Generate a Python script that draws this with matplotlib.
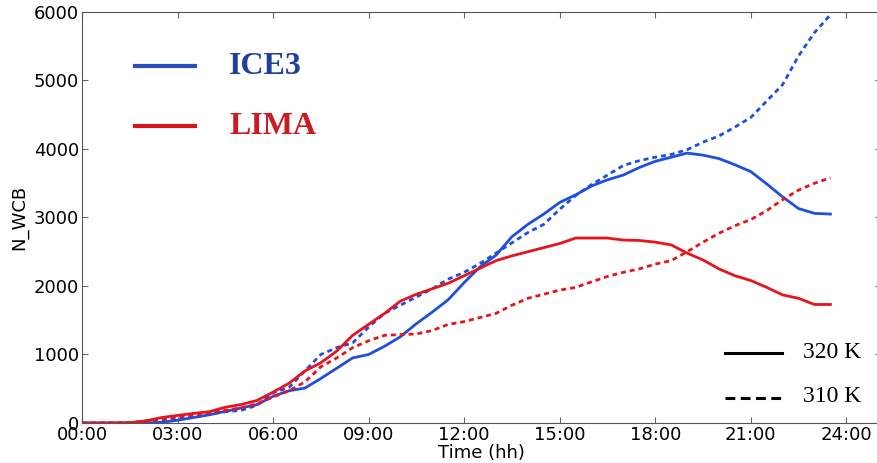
import numpy as np
import matplotlib
matplotlib.use('Agg')
import matplotlib.pyplot as plt
from matplotlib.lines import Line2D

# time in hours, every half hour
hours = np.arange(0, 24, 0.5)

# ICE3, 320 K (solid)
ice3_320 = [0, 0, 0, 0, 0, 10, 40, 80, 120, 170, 220, 270,
            390, 470, 510, 650, 800, 950, 1000, 1120, 1260, 1450, 1620, 1800,
            2050, 2280, 2450, 2720, 2900, 3050, 3220, 3330, 3460, 3550, 3620, 3730,
            3820, 3880, 3940, 3910, 3860, 3770, 3670, 3490, 3300, 3130, 3060, 3050]
# ICE3, 310 K (dashed)
ice3_310 = [0, 0, 0, 0, 5, 30, 60, 90, 130, 165, 185, 260,
            440, 520, 760, 1000, 1100, 1170, 1400, 1600, 1720, 1840, 1960, 2100,
            2200, 2330, 2480, 2630, 2780, 2900, 3120, 3320, 3480, 3620, 3760, 3830,
            3880, 3920, 3990, 4100, 4190, 4320, 4460, 4700, 4940, 5360, 5700, 5960]
# LIMA, 320 K (solid)
lima_320 = [0, 0, 0, 5, 30, 80, 110, 140, 165, 230, 270, 330,
            450, 580, 760, 880, 1050, 1280, 1440, 1600, 1780, 1880, 1960, 2040,
            2150, 2260, 2370, 2440, 2500, 2560, 2620, 2700, 2700, 2700, 2670, 2665,
            2640, 2600, 2480, 2380, 2250, 2150, 2080, 1980, 1870, 1820, 1730, 1730]
# LIMA, 310 K (dashed)
lima_310 = [0, 0, 0, 5, 30, 60, 90, 120, 150, 185, 220, 280,
            380, 470, 600, 820, 950, 1100, 1200, 1280, 1290, 1300, 1350, 1440,
            1480, 1540, 1600, 1720, 1820, 1880, 1940, 1980, 2060, 2140, 2200, 2250,
            2320, 2370, 2500, 2640, 2770, 2880, 2970, 3100, 3260, 3400, 3500, 3580]

tick_hours = np.arange(0, 25, 3)
tick_labels = ['%02d:00' % h for h in tick_hours]

blue = '#1f4fe0'
red = '#e8141c'

fig = plt.figure(figsize=(8.77, 4.63), dpi=100)
ax = fig.add_axes([0.0935, 0.0864, 0.9115, 0.8877])

ax.plot(hours, ice3_320, color=blue, lw=2)
ax.plot(hours, ice3_310, color=blue, lw=2, dashes=(1.8, 1.4))
ax.plot(hours, lima_320, color=red, lw=2)
ax.plot(hours, lima_310, color=red, lw=2, dashes=(1.8, 1.4))

ax.set_xlim(0, 25.1)
ax.set_ylim(0, 6000)
ax.set_xticks(tick_hours)
ax.set_xticklabels(tick_labels)
ax.set_yticks(np.arange(0, 6001, 1000))
ax.tick_params(direction='in', top=True, right=True, labelsize=13, length=4,
               color='#666666', pad=2)
for s in ax.spines.values():
    s.set_color('#555555')
ax.set_xlabel('Time (hh)', fontsize=13, labelpad=0)
ax.set_ylabel('N_WCB', fontsize=13, labelpad=4)

# model legend (top left)
W, H = 877.0, 463.0
def fx(px):
    return px / W
def fy(py):
    return 1 - py / H

fig.add_artist(Line2D([fx(135), fx(195)], [fy(66), fy(66)], color='#2a4fb8', lw=3))
fig.add_artist(Line2D([fx(135), fx(195)], [fy(126), fy(126)], color='#d8141e', lw=3))
fig.text(fx(229), fy(67), 'ICE3', color='#1f3f9f', fontsize=23, fontweight='bold',
         family='Liberation Serif', va='center', ha='left')
fig.text(fx(229), fy(127), 'LIMA', color='#cc1a22', fontsize=23, fontweight='bold',
         family='Liberation Serif', va='center', ha='left')

# temperature legend (bottom right)
fig.add_artist(Line2D([fx(725), fx(782)], [fy(353), fy(353)], color='black', lw=2.2))
fig.add_artist(Line2D([fx(725), fx(782)], [fy(398), fy(398)], color='black', lw=2.2,
                      dashes=(3.2, 1.8)))
fig.text(fx(803), fy(353), '320 K', fontsize=17, family='Liberation Serif',
         va='center', ha='left')
fig.text(fx(803), fy(397), '310 K', fontsize=17, family='Liberation Serif',
         va='center', ha='left')

fig.savefig('out.png', dpi=100)
